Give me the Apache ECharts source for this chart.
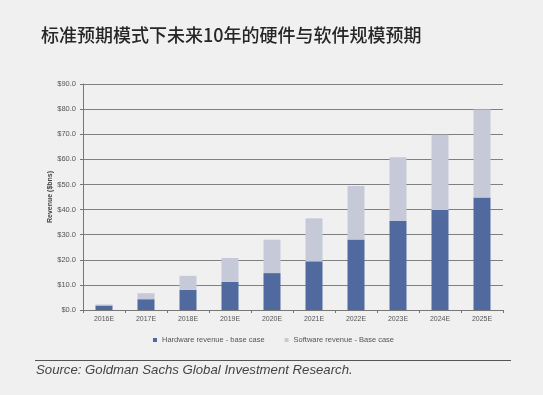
<!DOCTYPE html>
<html>
<head>
<meta charset="utf-8">
<script src="https://cdn.jsdelivr.net/npm/echarts@6/dist/echarts.min.js"></script>
<style>
html,body{margin:0;padding:0;background:#f0f0f0;}
#c{width:543px;height:395px;}
</style>
</head>
<body>
<div id="c"></div>
<script>
const categories = ['2016E','2017E','2018E','2019E','2020E','2021E','2022E','2023E','2024E','2025E'];
const hardware = [1.8, 4.3, 8.0, 11.2, 14.7, 19.4, 28.1, 35.4, 39.8, 44.8];
const software = [0.4, 2.4, 5.6, 9.5, 13.3, 17.1, 21.3, 25.4, 30.0, 35.0];
const seriesNames = ['Hardware revenue - base case', 'Software revenue - Base case'];
const titleText = '标准预期模式下未来10年的硬件与软件规模预期';
const sourceText = 'Source: Goldman Sachs Global Investment Research.';

const chart = echarts.init(document.getElementById('c'), null, {renderer: 'canvas'});
chart.setOption({
  backgroundColor: '#f0f0f0',
  animation: false,
  title: {
    text: titleText,
    left: 36, top: 21,
    textStyle: {fontFamily: 'Noto Sans CJK SC', fontSize: 18, fontWeight: 500, color: '#262626'}
  },
  grid: {left: 83, right: 40, top: 84, bottom: 85},
  legend: {
    left: 148, top: 331,
    icon: 'rect', itemWidth: 4, itemHeight: 4, itemGap: 20,
    textStyle: {fontFamily: 'Liberation Sans', fontSize: 7.5, color: '#555'},
    data: seriesNames
  },
  xAxis: {
    type: 'category',
    data: categories,
    axisLine: {lineStyle: {color: '#777', width: 1}},
    axisTick: {show: true, length: 3, lineStyle: {color: '#777'}},
    axisLabel: {fontFamily: 'Liberation Sans', fontSize: 7, color: '#555', margin: 6}
  },
  yAxis: {
    type: 'value',
    min: 0, max: 90, interval: 10,
    name: 'Revenue ($bns)',
    nameLocation: 'middle',
    nameGap: 29,
    nameMoveOverlap: false,
    nameTextStyle: {fontFamily: 'Liberation Sans', fontSize: 7, fontWeight: 'bold', color: '#444'},
    axisLine: {show: true, lineStyle: {color: '#777', width: 1}},
    axisTick: {show: true, length: 3, lineStyle: {color: '#777'}},
    splitLine: {lineStyle: {color: '#808080', width: 1}},
    axisLabel: {
      fontFamily: 'Liberation Sans', fontSize: 7.5, color: '#555', margin: 7,
      formatter: v => '$' + v.toFixed(1)
    }
  },
  series: [
    {name: seriesNames[0], type: 'bar', stack: 'rev', data: hardware, barWidth: 17,
     itemStyle: {color: '#506a9f'}},
    {name: seriesNames[1], type: 'bar', stack: 'rev', data: software, barWidth: 17,
     itemStyle: {color: '#c6cad8'}}
  ],
  graphic: [
    {type: 'line', shape: {x1: 35, y1: 360.5, x2: 511, y2: 360.5},
     style: {stroke: '#555', lineWidth: 1}},
    {type: 'text', left: 36, top: 364,
     style: {text: sourceText, font: 'italic 13.2px "Liberation Sans"', fill: '#444'}}
  ]
});
</script>
</body>
</html>
